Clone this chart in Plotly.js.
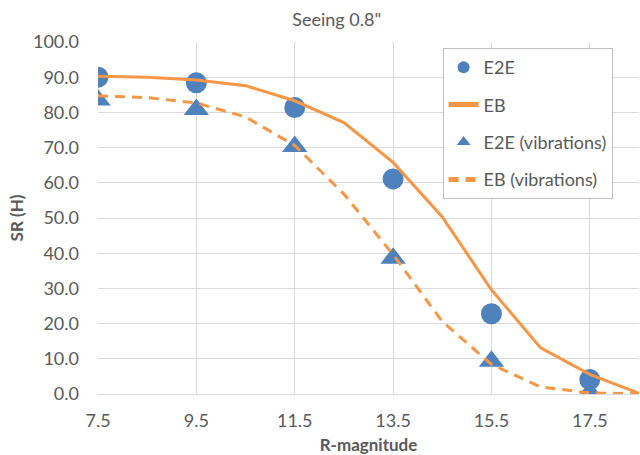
<!DOCTYPE html>
<html>
<head>
<meta charset="utf-8">
<script src="https://cdn.plot.ly/plotly-3.0.1.min.js"></script>
<style>html,body{margin:0;padding:0;background:#fff;}#chart{width:640px;height:455px;}</style>
</head>
<body>
<div id="chart"></div>
<script>
// Data
const magPoints = [7.5, 9.5, 11.5, 13.5, 15.5, 17.5];
const e2e = [90.0, 88.4, 81.4, 61.1, 22.8, 4.1];
const e2eVib = [83.5, 80.8, 70.3, 38.6, 9.3, 0.5];
const magLine = [7.5, 8.5, 9.5, 10.5, 11.5, 12.5, 13.5, 14.5, 15.5, 16.5, 17.5, 18.5];
const eb = [90.3, 90.0, 89.2, 87.6, 83.3, 77.1, 65.8, 50.3, 29.6, 13.1, 5.6, 0.2];
const ebVib = [84.7, 84.2, 82.7, 78.7, 70.6, 56.8, 39.6, 20.6, 8.4, 2.0, 0.3, 0.1];
const xTicks = [7.5, 9.5, 11.5, 13.5, 15.5, 17.5];

const blue = '#4F81BD';
const orange = '#F79646';
const font = 'Lato, "Open Sans", sans-serif';

const traces = [
  {x: magPoints, y: e2e, name: 'E2E', mode: 'markers', type: 'scatter', legendgroup: 'a',
   marker: {symbol: 'circle', size: 21, color: blue}},
  {x: magLine, y: eb, name: 'EB', mode: 'lines', type: 'scatter', legendgroup: 'b',
   line: {color: orange, width: 3}},
  {x: magPoints, y: e2eVib, name: 'E2E (vibrations)', mode: 'markers', type: 'scatter', legendgroup: 'c',
   marker: {symbol: 'triangle-up', size: 22, color: blue}},
  {x: magLine, y: ebVib, name: 'EB (vibrations)', mode: 'lines', type: 'scatter', legendgroup: 'd',
   line: {color: orange, width: 3, dash: '10px,7px'}}
];

const layout = {
  width: 640, height: 455,
  margin: {l: 98, r: 1, t: 42, b: 61},
  paper_bgcolor: '#fff', plot_bgcolor: '#fff',
  font: {family: font, size: 18, color: '#595959'},
  title: {text: 'Seeing 0.8"', font: {family: font, size: 18, color: '#595959'},
          x: 0.526, xref: 'container', xanchor: 'center', y: 0.956, yanchor: 'middle'},
  showlegend: true,
  legend: {x: 0.637, xanchor: 'left', y: 0.983, yanchor: 'top', bgcolor: '#fff',
           bordercolor: '#BFBFBF', borderwidth: 1, traceorder: 'grouped', tracegroupgap: 11,
           itemsizing: 'constant', itemwidth: 30, font: {family: font, size: 18, color: '#595959'}},
  xaxis: {range: [7.5, 18.5], tickvals: xTicks, ticktext: xTicks.map(v => v.toFixed(1)),
          showgrid: true, gridcolor: '#D9D9D9', gridwidth: 1, zeroline: false,
          showline: true, linecolor: '#D9D9D9', linewidth: 1, ticks: '',
          ticklabelstandoff: 10, tickfont: {size: 18},
          title: {text: 'R-magnitude', font: {family: font, size: 17, color: '#595959', weight: 'bold'}, standoff: 9}},
  yaxis: {range: [0, 100], dtick: 10, tickformat: '.1f',
          showgrid: true, gridcolor: '#D9D9D9', gridwidth: 1, zeroline: false,
          showline: false, ticks: '', ticklabelstandoff: 18, tickfont: {size: 18},
          title: {text: 'SR (H)', font: {family: font, size: 17, color: '#595959', weight: 'bold'}, standoff: 5}}
};

Plotly.newPlot('chart', traces, layout, {displayModeBar: false, staticPlot: true});
</script>
</body>
</html>
